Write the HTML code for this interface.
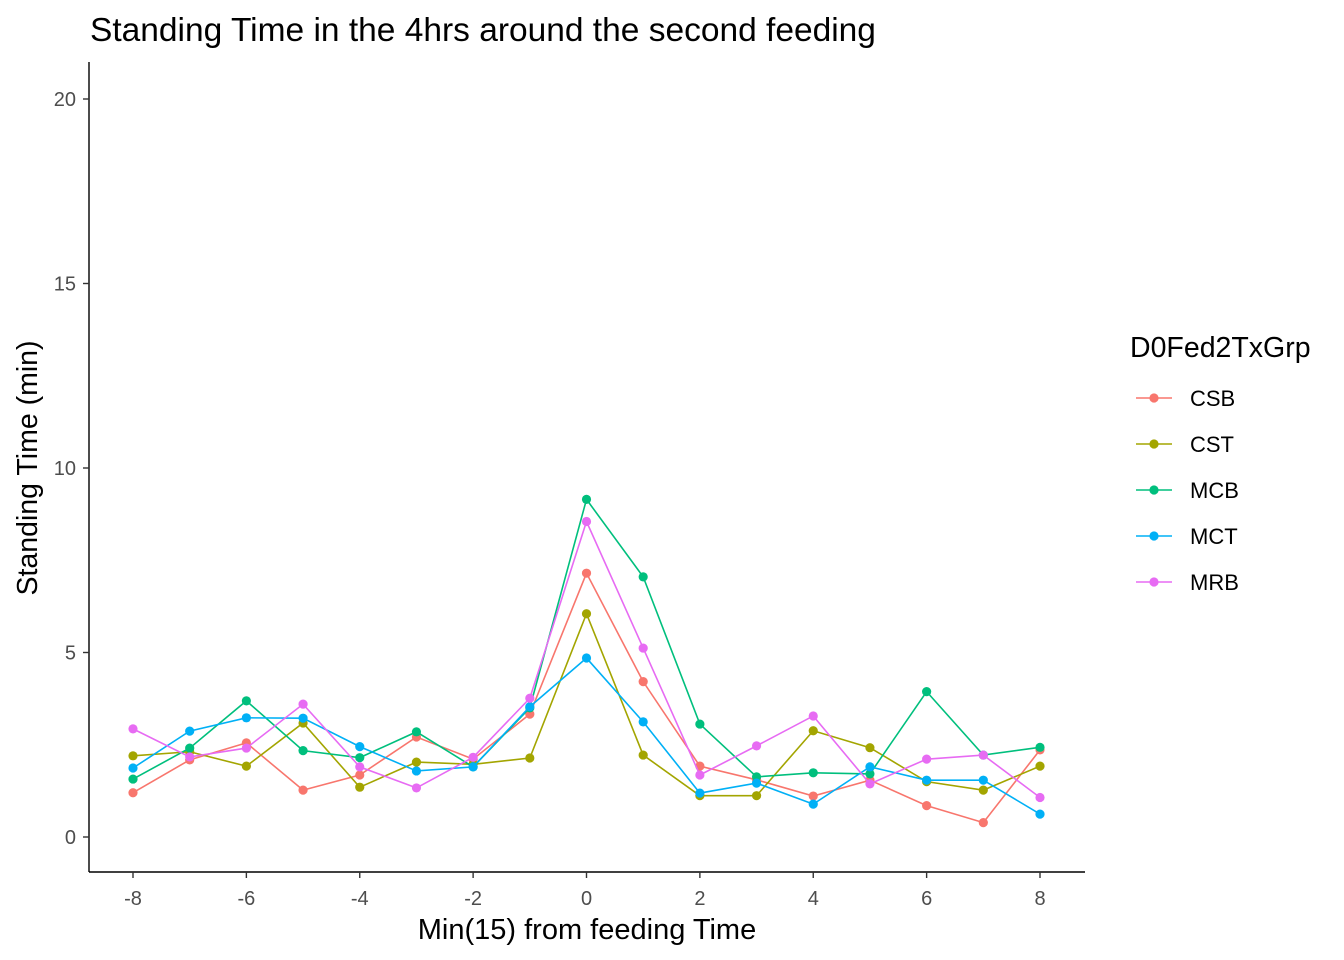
<!DOCTYPE html>
<html><head><meta charset="utf-8"><style>
body{margin:0;background:#fff}
svg{display:block;font-family:"Liberation Sans",Arial,sans-serif}
</style></head><body>
<svg id="chart" width="1344" height="960">
<text x="90" y="41" font-size="33.5" fill="#000">Standing Time in the 4hrs around the second feeding</text>
<g id="axes"></g>
<g id="series"></g>
<text x="587" y="939" font-size="29" text-anchor="middle" fill="#000">Min(15) from feeding Time</text>
<text transform="translate(37,468) rotate(-90)" font-size="28.5" text-anchor="middle" fill="#000">Standing Time (min)</text>
<text x="1130" y="357" font-size="28.5" fill="#000">D0Fed2TxGrp</text>
<g id="legend"></g>
</svg>
<script>
const xValues = [-8,-7,-6,-5,-4,-3,-2,-1,0,1,2,3,4,5,6,7,8];
const groups = ["CSB","CST","MCB","MCT","MRB"];
const colors = ["#F8766D","#A3A500","#00BF7D","#00B0F6","#E76BF3"];
const csb = [1.20,2.09,2.55,1.27,1.68,2.71,2.11,3.33,7.15,4.21,1.92,1.55,1.11,1.54,0.85,0.39,2.36];
const cst = [2.20,2.31,1.92,3.09,1.35,2.03,1.97,2.14,6.05,2.22,1.12,1.12,2.88,2.42,1.50,1.27,1.92];
const mcb = [1.57,2.41,3.69,2.34,2.15,2.85,1.90,3.50,9.15,7.05,3.06,1.63,1.74,1.71,3.94,2.22,2.43];
const mct = [1.87,2.87,3.23,3.22,2.45,1.79,1.90,3.53,4.85,3.12,1.19,1.46,0.89,1.90,1.54,1.54,0.62];
const mrb = [2.93,2.17,2.41,3.60,1.90,1.33,2.16,3.76,8.55,5.12,1.68,2.47,3.28,1.44,2.11,2.22,1.07];
const seriesData = [csb,cst,mcb,mct,mrb];
const xTicks = [-8,-6,-4,-2,0,2,4,6,8];
const yTicks = [0,5,10,15,20];

const NS="http://www.w3.org/2000/svg";
const xs = v => 133 + (v+8)*(1040-133)/16;
const ys = v => 837 - v*(837-99)/20;
function mk(tag, attrs, parent){const e=document.createElementNS(NS,tag);for(const k in attrs)e.setAttribute(k,attrs[k]);parent.appendChild(e);return e;}
const axes=document.getElementById('axes');
let l=mk('line',{x1:89,y1:62,x2:89,y2:872,stroke:'#000','stroke-width':1.4},axes);


l=mk('line',{x1:89,y1:872,x2:1085,y2:872,stroke:'#000','stroke-width':1.4},axes);


yTicks.forEach(t=>{
  const tk=mk('line',{x1:83,x2:89,y1:ys(t),y2:ys(t),stroke:'#333','stroke-width':1.4},axes);
  
  
  const tx=mk('text',{x:76,y:ys(t)+7,'font-size':20,'text-anchor':'end',fill:'#4d4d4d'},axes);
  tx.textContent=t;
  
  
});
xTicks.forEach(t=>{
  const tk=mk('line',{x1:xs(t),x2:xs(t),y1:872,y2:878,stroke:'#333','stroke-width':1.4},axes);
  
  
  const tx=mk('text',{x:xs(t),y:905,'font-size':20,'text-anchor':'middle',fill:'#4d4d4d'},axes);
  tx.textContent=t;
  
  
});
const sg=document.getElementById('series');
seriesData.forEach((vals,i)=>{
  const g=mk('g',{},sg);
  
  
  const p=mk('polyline',{points:vals.map((v,j)=>xs(xValues[j])+','+ys(v)).join(' '),fill:'none',stroke:colors[i],'stroke-width':1.6},g);
  
  
  vals.forEach((v,j)=>{
    const c=mk('circle',{cx:xs(xValues[j]),cy:ys(v),r:4.6,fill:colors[i]},g);
    
    
  });
});
const lg=document.getElementById('legend');
groups.forEach((gname,i)=>{
  const y=398+i*46;
  const g=mk('g',{},lg);
  
  
  mk('line',{x1:1136,x2:1172,y1:y,y2:y,stroke:colors[i],'stroke-width':1.6},g);
  mk('circle',{cx:1154,cy:y,r:4.6,fill:colors[i]},g);
  const t=mk('text',{x:1190,y:y+8,'font-size':22,fill:'#000'},g);
  t.textContent=gname;
});
</script>
</body></html>
